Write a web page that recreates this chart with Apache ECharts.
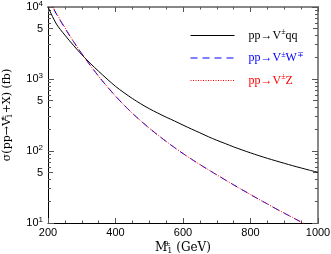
<!DOCTYPE html>
<html><head><meta charset="utf-8">
<script src="https://cdn.jsdelivr.net/npm/echarts@6/dist/echarts.min.js"></script>
<style>html,body{margin:0;padding:0;background:#fff}#c{width:331px;height:254px}</style>
</head><body><div id="c"></div>
<script>
// masses (GeV)
const mass = [200,225,250,275,300,325,350,375,400,425,450,475,500,525,550,575,600,625,650,675,700,725,750,775,800,825,850,875,900,925,950,975,1000];
// sigma (fb)
const vqq = [10000,5800,4070,2950,2180,1655,1280,1000,790,646,536,452,387,337,295,261,229,202,179,158,141,127,114,103.5,94.2,86.1,79.1,73,67.5,62.5,58.1,54.1,50.5];
const vw  = [12940,7980,5090,3340,2250,1550,1091,787,579,436,334,262,208,167,136,111.4,92.3,77.1,64.9,55,46.7,39.7,33.9,29,24.8,21.3,18.4,15.8,13.7,11.9,10.3,9.0,7.85];
const vz  = [13500,8200,5200,3360,2260,1550,1091,787,579,436,334,262,208,167,136,111.4,92.3,77.1,64.9,55,46.7,39.7,33.9,29,24.8,21.3,18.4,15.8,13.7,11.9,10.3,9.0,7.85];
const names = ['Vqq','VW','VZ'];
const legendLabels = {
  Vqq: 'pp→V{sup|±}qq',
  VW: 'pp→V{sup|±}W{sup|∓}',
  VZ: 'pp→V{sup|±}Z'
};
const colors = ['#000000','#0000ff','#ff0000'];
const dashes = ['solid', [7,5], [1,1.5]];
// axis tick values
const xTicks = [200,400,600,800,1000];
const yDecades = [10,100,1000,10000];
const yFives = [50,500,5000];
const yMinor = [];
[10,100,1000].forEach(d => [2,3,4,6,7,8,9].forEach(m => yMinor.push(m*d)));

const chart = echarts.init(document.getElementById('c'), null, {renderer:'canvas'});
const serif = '"DejaVu Serif","Liberation Serif",serif';
const lserif = '"Liberation Serif","DejaVu Serif",serif';
const sans = '"Liberation Sans","DejaVu Sans",sans-serif';
const tickCol = '#555';
function supRich(ff, fs) {
  return {
    sup: {fontSize: fs, padding: [0,0,7,0], fontFamily: ff},
    supz: {fontSize: fs, padding: [0,0,7,0], fontFamily: ff, width: 0},
    sub: {fontSize: fs, padding: [6,0,0,0], fontFamily: ff}
  };
}
function yAxisBase(pos, extra) {
  return Object.assign({
    type: 'log', logBase: 10, min: 10, max: 10000, position: pos,
    axisLine: {show: false},
    splitLine: {show: false},
    axisLabel: {show: false},
    axisTick: {show: false}
  }, extra);
}
const option = {
  animation: false,
  grid: {left: 48, right: 13, top: 7, bottom: 31, outerBoundsMode: 'none', containLabel: false},
  legend: {
    orient: 'vertical', left: 185, top: 23,
    itemWidth: 44, itemHeight: 10, itemGap: 9,
    itemStyle: {opacity: 0},
    data: names.map((n,i) => ({name: n, textStyle: {color: colors[i]},
      lineStyle: {color: colors[i], width: 1, type: dashes[i]}})),
    formatter: n => legendLabels[n],
    textStyle: {fontFamily: lserif, fontSize: 12, padding: [0,0,0,9],
      rich: {sup: {fontSize: 8, padding: [0,0,7,0], fontFamily: lserif}}}
  },
  xAxis: [{
    type: 'value', min: 200, max: 1000, interval: 200, position: 'bottom',
    name: 'M{supz|±}{sub|1} (GeV)', nameLocation: 'middle', nameGap: 17, nameMoveOverlap: false,
    nameTextStyle: {fontFamily: serif, fontSize: 12, color: '#000', rich: supRich(serif, 8)},
    axisLine: {lineStyle: {color: '#000', width: 1}},
    axisTick: {inside: true, length: 5, lineStyle: {color: tickCol}},
    minorTick: {show: true, splitNumber: 4, length: 2.5, lineStyle: {color: tickCol}},
    splitLine: {show: false},
    axisLabel: {fontFamily: sans, fontSize: 11, color: '#000', margin: 4, formatter: v => String(v)}
  },{
    type: 'value', min: 200, max: 1000, interval: 200, position: 'top',
    axisLine: {lineStyle: {color: '#888', width: 2}},
    axisTick: {inside: true, length: 5, lineStyle: {color: tickCol}},
    minorTick: {show: true, splitNumber: 4, length: 2.5, lineStyle: {color: tickCol}},
    splitLine: {show: false},
    axisLabel: {show: false}
  }],
  yAxis: [
    yAxisBase('left', {
      axisLine: {show: true, lineStyle: {color: '#000', width: 1}},
      axisTick: {show: true, inside: true, length: 6, lineStyle: {color: tickCol}},
      axisLabel: {show: true, fontFamily: sans, fontSize: 11, color: '#000', margin: 5,
        formatter: v => '10{e|' + Math.round(Math.log10(v)) + '}',
        rich: {e: {fontSize: 8, padding: [0,0,7,0], fontFamily: sans}}},
      name: 'σ(pp→V{supz|±}{sub|1}+X) (fb)', nameLocation: 'middle', nameGap: 33, nameRotate: 90,
      nameTextStyle: {fontFamily: serif, fontSize: 11, color: '#000', rich: supRich(serif, 7.5)}
    }),
    yAxisBase('left', {
      axisTick: {show: true, inside: true, length: 5, customValues: yFives, lineStyle: {color: tickCol}},
      axisLabel: {show: true, customValues: yFives, formatter: () => '5', fontFamily: sans, fontSize: 11, color: '#000', margin: 5}
    }),
    yAxisBase('left', {
      axisTick: {show: true, inside: true, length: 3, customValues: yMinor, lineStyle: {color: tickCol}}
    }),
    yAxisBase('right', {
      axisLine: {show: true, lineStyle: {color: '#888', width: 2}},
      axisTick: {show: true, inside: true, length: 6, lineStyle: {color: tickCol}}
    }),
    yAxisBase('right', {
      axisTick: {show: true, inside: true, length: 5, customValues: yFives, lineStyle: {color: tickCol}}
    }),
    yAxisBase('right', {
      axisTick: {show: true, inside: true, length: 3, customValues: yMinor, lineStyle: {color: tickCol}}
    })
  ],
  series: [
    {name: 'Vqq', data: vqq, type: 'line', color: colors[0], lineStyle: {width: 1, type: dashes[0]}},
    {name: 'VW', data: vw, type: 'line', color: colors[1], lineStyle: {width: 1, type: dashes[1]}},
    {name: 'VZ', data: vz, type: 'line', color: colors[2], lineStyle: {width: 1, type: dashes[2]}}
  ].map(s => Object.assign(s, {
    data: s.data.map((v,i) => [mass[i], v]),
    xAxisIndex: 0, yAxisIndex: 0, symbol: 'none', smooth: 0.3, clip: true
  }))
};
chart.setOption(option);
</script></body></html>
